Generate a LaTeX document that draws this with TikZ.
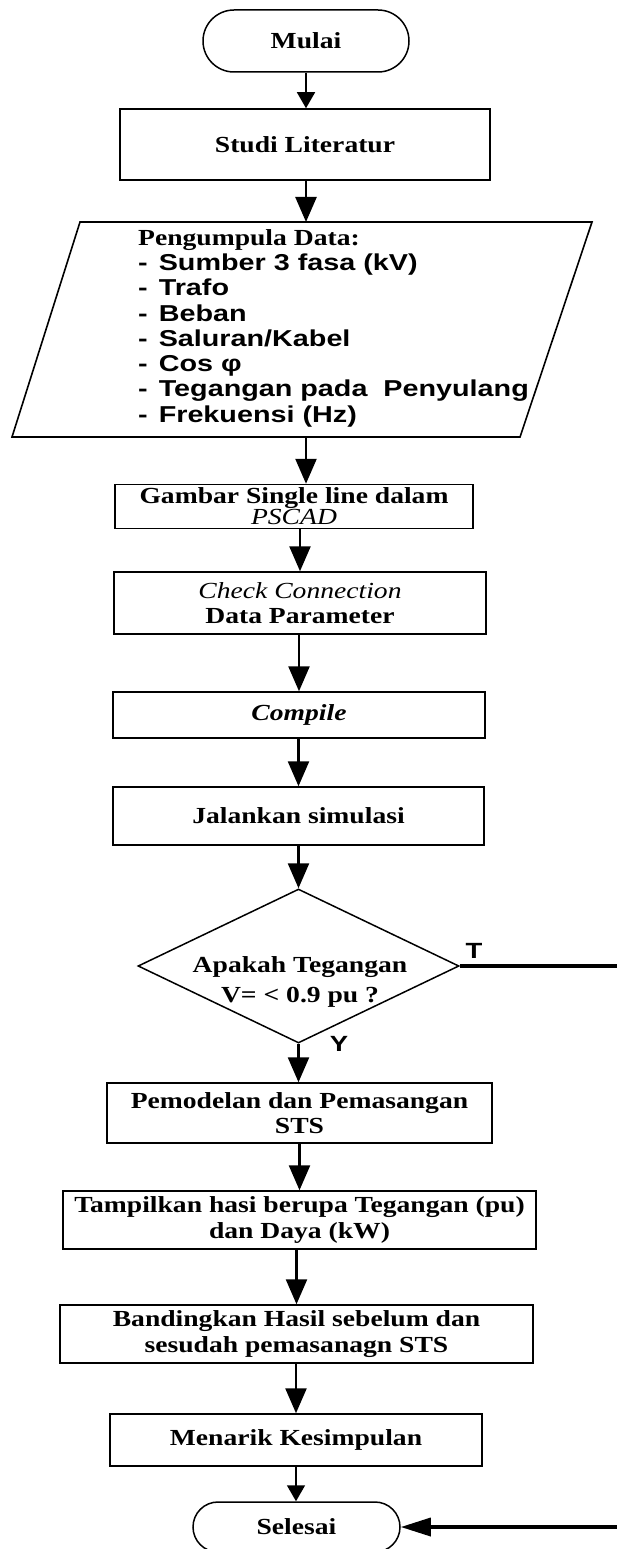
\documentclass[tikz,border=0pt]{standalone}
\usepackage{fontspec}
\setmainfont{Liberation Serif}[FakeStretch=1.2]
\setsansfont{Liberation Sans}[FakeStretch=1.25]
\usetikzlibrary{arrows.meta,shapes.geometric,shapes.misc}
\newcommand\itm[1]{{\sffamily\bfseries -\hspace{11pt}#1}}
\begin{document}
\begin{tikzpicture}[x=1pt,y=-1pt,
  base/.style={draw, line width=1.5pt, inner sep=0pt, align=center,
    font=\fontsize{23}{25.5}\selectfont\bfseries},
  procbox/.style={base, rectangle},
  term/.style={base, rounded rectangle},
  decbox/.style={draw, line width=1.5pt, diamond, inner sep=0pt},
  flow/.style={line width=2.5pt, -{Triangle[length=25pt,width=21pt]}},
  thinflow/.style={line width=1.5pt, -{Triangle[length=16pt,width=18pt]}},
  backflow/.style={line width=3.5pt, -{Triangle[length=30pt,width=18pt]}},
  lbl/.style={font=\sffamily\bfseries\fontsize{22}{24}\selectfont, inner sep=0pt},
  ]
\fill[white] (0,0) rectangle (617,1549);
\useasboundingbox (0,0) rectangle (617,1549);

\node[term, minimum width=206pt, minimum height=62pt] (mulai) at (306,41) {Mulai};
\node[procbox, minimum width=370pt, minimum height=71pt] (studi) at (305,144.5) {Studi Literatur};

% data parallelogram
\coordinate (pA) at (80,222);
\coordinate (pB) at (592,222);
\coordinate (pC) at (520,437);
\coordinate (pD) at (12,437);
\coordinate (ptop) at (306,222);
\coordinate (pbot) at (306,437);
\draw[line width=1.6pt] (pA) -- (pB) -- (pC) -- (pD) -- cycle;
\node[anchor=north west, align=left, inner sep=0pt,
  font=\fontsize{23}{25.3}\selectfont] (datalist) at (138,229)
  {\textbf{Pengumpula Data:}\\
   \itm{Sumber 3 fasa (kV)}\\
   \itm{Trafo}\\
   \itm{Beban}\\
   \itm{Saluran/Kabel}\\
   \itm{Cos φ}\\
   \itm{Tegangan pada\ \ Penyulang}\\
   \itm{Frekuensi (Hz)}};

\node[procbox, minimum width=358pt, minimum height=44pt,
  font=\fontsize{23}{21}\selectfont\bfseries] (gambar) at (294,506.5)
  {Gambar Single line dalam\\\textit{\mdseries PSCAD}};
\node[procbox, minimum width=372pt, minimum height=62pt] (check) at (300,603)
  {\textit{\mdseries Check Connection}\\Data Parameter};
\node[procbox, minimum width=372pt, minimum height=46pt] (compile) at (299,715)
  {\textit{Compile}};
\node[procbox, minimum width=371pt, minimum height=58pt] (jalan) at (298.5,816)
  {Jalankan simulasi};
\node[decbox, minimum width=321pt, minimum height=154pt] (dec) at (298.5,966) {};
\node[inner sep=0pt, align=center, font=\fontsize{23}{30}\selectfont\bfseries]
  (dectext) at (300,982) {Apakah Tegangan\\V= < 0.9 pu ?};
\node[procbox, minimum width=385pt, minimum height=60pt] (model) at (299.5,1113)
  {Pemodelan dan Pemasangan\\STS};
\node[procbox, minimum width=473pt, minimum height=58pt] (tampil) at (299.5,1220)
  {Tampilkan hasi berupa Tegangan (pu)\\dan Daya (kW)};
\node[procbox, minimum width=473pt, minimum height=58pt] (banding) at (296.5,1334)
  {Bandingkan Hasil sebelum dan\\sesudah pemasanagn STS};
\node[procbox, minimum width=372pt, minimum height=52pt] (tarik) at (296,1440)
  {Menarik Kesimpulan};
\node[term, minimum width=207pt, minimum height=50pt] (selesai) at (296.5,1527)
  {Selesai};

\node[lbl] (tlabel) at (474,951) {T};
\node[lbl] (ylabel) at (339,1044) {Y};

\coordinate (tend) at (617,966);
\coordinate (send) at (617,1527);

\draw[thinflow] (mulai.south) -- (mulai.south |- studi.north);
\draw[flow] (studi.south -| ptop) -- (ptop);
\draw[flow] (pbot) -- (pbot |- gambar.north);
\draw[flow] (gambar.south -| check) -- (check.north);
\draw[flow] (check.south -| compile) -- (compile.north);
\draw[flow] (compile.south -| jalan) -- (jalan.north);
\draw[flow] (jalan.south -| dec) -- (dec.north);
\draw[flow] (dec.south) -- (dec.south |- model.north);
\draw[flow] (model.south -| tampil) -- (tampil.north);
\draw[flow] (tampil.south -| banding) -- (banding.north);
\draw[flow] (banding.south -| tarik) -- (tarik.north);
\draw[thinflow] (tarik.south) -- (tarik.south |- selesai.north);
\draw[line width=3.5pt] (dec.east) -- (tend);
\draw[backflow] (send) -- (selesai.east);
\end{tikzpicture}
\end{document}
